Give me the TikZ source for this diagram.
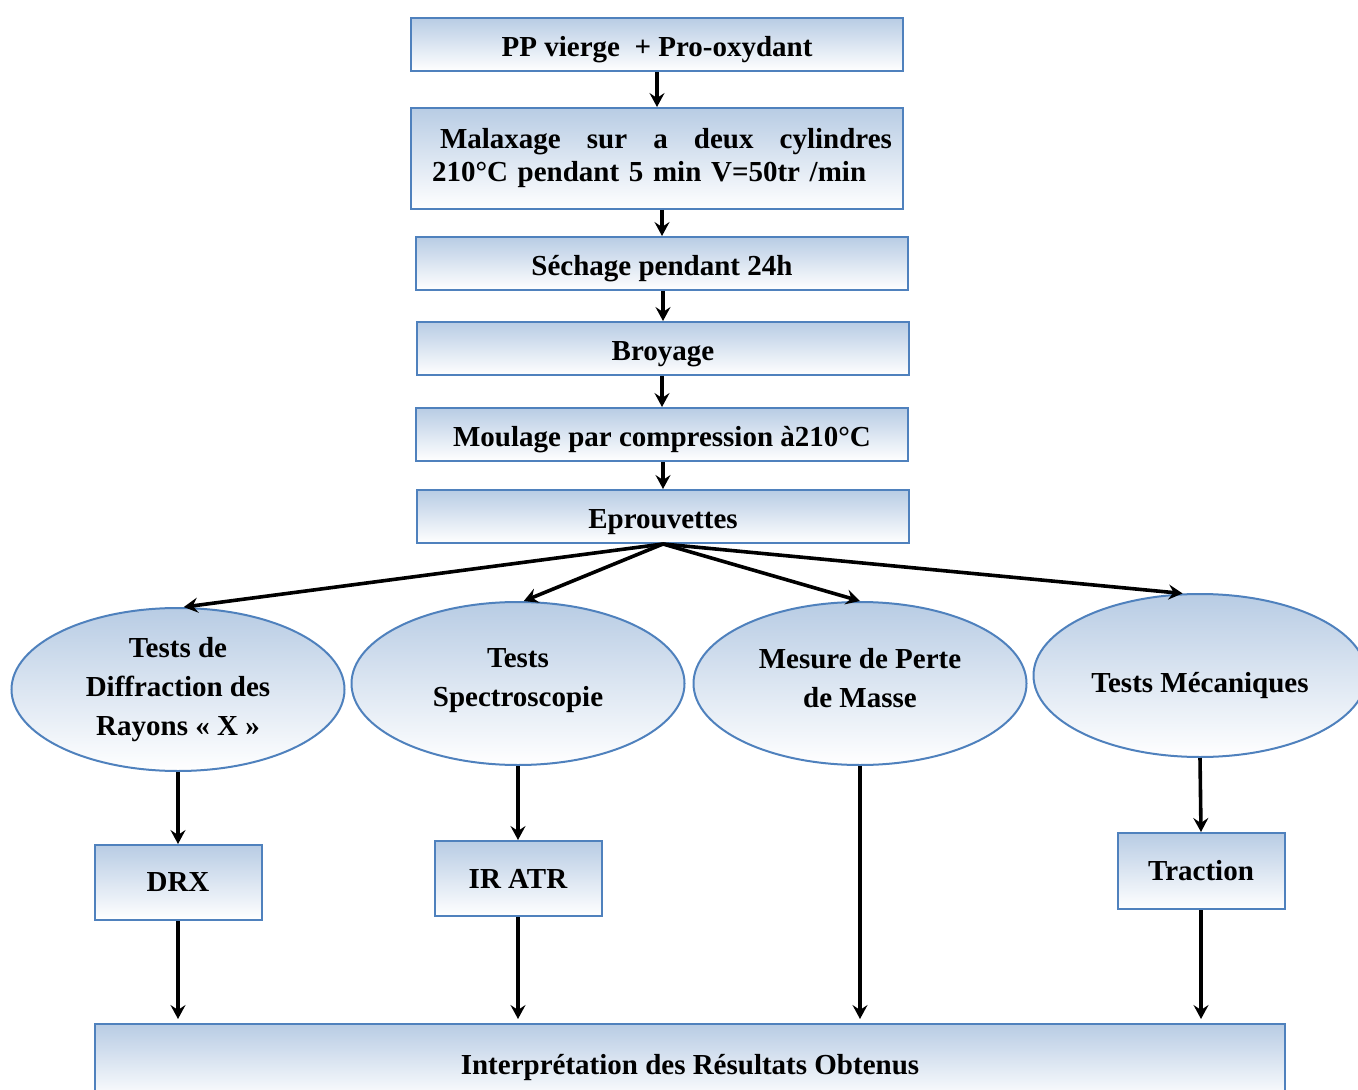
\documentclass[tikz,border=0pt]{standalone}
\usepackage{fontspec}
\setmainfont{Liberation Serif}
\usetikzlibrary{shapes.geometric}
\usetikzlibrary{arrows.meta}
\definecolor{bleubord}{RGB}{79,129,189}
\definecolor{bleuhaut}{RGB}{184,204,228}
\tikzstyle{every node}=[font=\bfseries\fontsize{14.5}{16.5}\selectfont]
\tikzstyle{etape}=[draw=bleubord,line width=1pt,top color=bleuhaut,bottom color=white,inner sep=0pt]
\tikzstyle{boite}=[etape,rectangle,minimum width=246pt,minimum height=26.5pt,text height=12.5pt,text depth=0.5pt]
\tikzstyle{petite}=[etape,rectangle,minimum width=83.5pt,minimum height=37.5pt]
\tikzstyle{bulle}=[etape,ellipse,minimum width=166.5pt,minimum height=81.5pt,align=center,
  font=\bfseries\fontsize{14.5}{19.5}\selectfont]
\tikzstyle{fleche}=[line width=1.8pt,-{Stealth[length=7pt,width=7.5pt,inset=2.5pt]}]

\begin{document}
\begin{tikzpicture}[x=0.5pt,y=-0.5pt]
  \useasboundingbox (0,0) rectangle (1358,1090);
  \clip (0,0) rectangle (1358,1090);
  % chaine de preparation
  \node[boite] (pp) at (657,44.5) {PP vierge ~+ Pro-oxydant};
  \node[boite,minimum height=50.5pt,text width=235pt,align=left,text height=,text depth=] (malax) at (657,158.5)
    {\hspace*{9pt}Malaxage\hfill sur\hfill a\hfill deux\hfill cylindres\\\hspace*{5pt}210°C pendant 5 min V=50tr /min};
  \node[boite] (sech) at (662,263.5) {Séchage pendant 24h};
  \node[boite] (broy) at (663,348.5) {Broyage};
  \node[boite] (moul) at (662,434.5) {Moulage par compression à210°C};
  \node[boite] (eprouv) at (663,516.5) {Eprouvettes};
  \draw[fleche] (pp.south) -- (pp.south |- malax.north);
  \draw[fleche] (malax.south -| sech.north) -- (sech.north);
  \draw[fleche] (sech.south -| broy.north) -- (broy.north);
  \draw[fleche] (broy.south -| moul.north) -- (moul.north);
  \draw[fleche] (moul.south -| eprouv.north) -- (eprouv.north);
  % essais
  \node[bulle] (tdrx) at (178,689.5) {Tests de\\Diffraction des\\Rayons « X »};
  \node[bulle] (tspec) at (518,683.5) {Tests\\Spectroscopie\\[-13.5pt]};
  \node[bulle] (tmasse) at (860,683.5) {Mesure de Perte\\de Masse\\[-13.5pt]};
  \node[bulle,text height=20pt,text depth=3pt] (tmeca) at (1200,675.5) {Tests Mécaniques};
  \draw[fleche] (eprouv.south) -- (tdrx.86);
  \draw[fleche] (eprouv.south) -- (tspec.86);
  \draw[fleche] (eprouv.south) -- (tmasse.north);
  \draw[fleche] (eprouv.south) -- (tmeca.102);
  \node[petite] (drx) at (178,882.5) {DRX};
  \node[petite] (iratr) at (518,878.5) {IR ATR};
  \node[petite,minimum height=38pt] (traction) at (1201,871) {Traction};
  \draw[fleche] (tdrx.south) -- (drx.north);
  \draw[fleche] (tspec.south) -- (iratr.north);
  \draw[fleche] (tmeca.south) -- (traction.north);
  % resultats
  \node[etape,rectangle,minimum width=595pt,minimum height=38pt,text height=12.5pt,text depth=0.5pt] (interp) at (690,1062)
    {Interprétation des Résultats Obtenus};
  \foreach \src in {drx,iratr,tmasse,traction}
    \draw[fleche,shorten >=2pt] (\src.south) -- (\src.south |- interp.north);
\end{tikzpicture}
\end{document}
